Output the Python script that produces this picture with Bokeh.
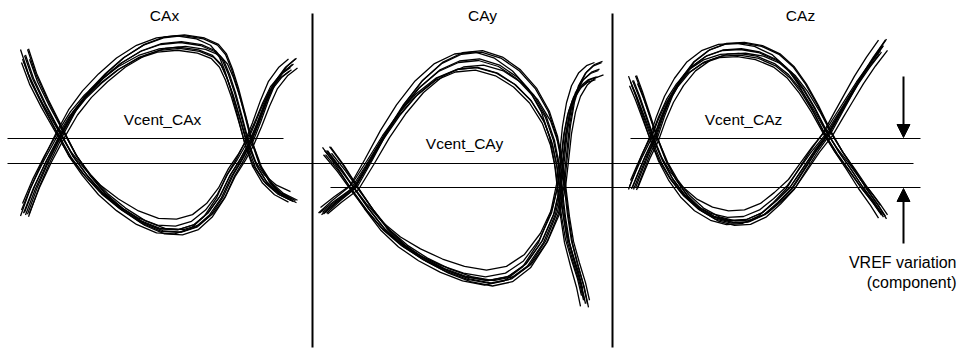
from bokeh.plotting import figure
from bokeh.models import Range1d, Arrow, NormalHead
from bokeh.core.properties import value
from bokeh.embed import file_html
from bokeh.resources import INLINE

# ---- eye curves (picture coordinates, y grows downward) ----
cax_upper_x = [24, 34, 46, 60, 72, 86, 102, 120, 140, 160, 180, 200, 214, 222, 228, 234, 241, 248, 256, 266, 278, 292]
cax_upper_y = [212, 186, 160, 133, 112, 94, 78, 63, 51, 44, 42, 45, 51, 60, 74, 92, 117, 143, 165, 181, 192, 199]
cax_lower_x = [24, 32, 44, 60, 72, 86, 102, 120, 140, 160, 178, 194, 208, 220, 230, 240, 248, 256, 264, 272, 282, 292]
cax_lower_y = [55, 78, 103, 133, 155, 174, 192, 207, 220, 228, 229, 224, 212, 195, 174, 158, 143, 124, 103, 85, 72, 64]

cay_upper_x = [322, 336, 353, 368, 384, 400, 418, 438, 458, 478, 498, 516, 532, 545, 553, 558, 561, 564, 568, 574, 580, 584]
cay_upper_y = [212, 200, 187, 162, 134, 110, 88, 71, 62, 60, 66, 78, 95, 117, 140, 165, 190, 215, 240, 262, 282, 300]
cay_lower_x = [326, 340, 353, 368, 384, 402, 422, 444, 466, 488, 508, 526, 542, 554, 560, 563, 566, 570, 575, 582, 590, 598]
cay_lower_y = [150, 168, 187, 208, 228, 244, 257, 268, 276, 280, 276, 263, 240, 212, 185, 158, 130, 108, 92, 80, 73, 70]

caz_upper_x = [632, 638, 645, 653, 660, 668, 678, 690, 705, 722, 740, 758, 776, 790, 802, 814, 827, 838, 850, 862, 874, 882]
caz_upper_y = [187, 172, 155, 138, 118, 99, 82, 67, 56, 50, 49, 52, 60, 72, 88, 108, 133, 151, 168, 186, 202, 214]
caz_lower_x = [632, 638, 645, 653, 662, 672, 684, 698, 714, 730, 746, 762, 776, 790, 802, 814, 827, 838, 848, 858, 870, 882]
caz_lower_y = [80, 95, 115, 138, 160, 178, 194, 207, 216, 220, 219, 212, 200, 186, 168, 150, 133, 114, 97, 80, 62, 46]

# level each eye's traces spread about (its crossing level)
eye_mid_y = [138, 187, 136]

# per-trace jitter of the overlaid acquisitions
trace_dx = [0, -3, 3, -1, 4, -2, 1, 5, -4]
trace_dy = [0, 2, -2, 3, -1, -3, 1, 2, -1]
trace_amp = [1.00, 0.94, 1.05, 0.97, 1.07, 0.92, 1.02, 0.98, 1.06]

# ---- reference levels ----
hline_y = [138, 163, 187, 138]
hline_x0 = [7, 7, 330, 630]
hline_x1 = [283, 913, 920, 920]
vline_x = [312, 612]
vline_y0 = [13, 13]
vline_y1 = [347, 347]

titles = ["CAx", "CAy", "CAz"]
title_x = [164, 482, 800]
title_y = [15, 15, 15]
vcent = ["Vcent_CAx", "Vcent_CAy", "Vcent_CAz"]
vcent_x = [162, 464, 743]
vcent_y = [119, 143, 119]
note = ["VREF variation", "(component)"]
note_x = [956, 956]
note_y = [262, 282]

p = figure(width=961, height=356, x_range=Range1d(0, 961), y_range=Range1d(356, 0),
           output_backend="svg", toolbar_location=None, min_border=0)
p.axis.visible = False
p.grid.visible = False
p.outline_line_color = None
p.background_fill_color = "white"

xs, ys = [], []
curves = [(cax_upper_x, cax_upper_y, 0), (cax_lower_x, cax_lower_y, 0),
          (cay_upper_x, cay_upper_y, 1), (cay_lower_x, cay_lower_y, 1),
          (caz_upper_x, caz_upper_y, 2), (caz_lower_x, caz_lower_y, 2)]
for cx, cy, k in curves:
    ym = eye_mid_y[k]
    for dx, dy, a in zip(trace_dx, trace_dy, trace_amp):
        xs.append([x + dx for x in cx])
        ys.append([ym + (y - ym) * a + dy for y in cy])
p.multi_line(xs, ys, line_color="black", line_width=1.3)

p.segment(x0=hline_x0, y0=hline_y, x1=hline_x1, y1=hline_y, line_color="black", line_width=1)
p.segment(x0=vline_x, y0=vline_y0, x1=vline_x, y1=vline_y1, line_color="black", line_width=2)

p.add_layout(Arrow(end=NormalHead(size=13, fill_color="black", line_color="black"),
                   x_start=903, y_start=76, x_end=903, y_end=137, line_width=2))
p.add_layout(Arrow(end=NormalHead(size=13, fill_color="black", line_color="black"),
                   x_start=903, y_start=243, x_end=903, y_end=188, line_width=2))

font = value("Liberation Sans")
p.text(title_x, title_y, text=titles, text_font=font, text_font_size="15.5px",
       text_align="center", text_baseline="middle", text_color="black")
p.text(vcent_x, vcent_y, text=vcent, text_font=font, text_font_size="15.5px",
       text_align="center", text_baseline="middle", text_color="black")
p.text(note_x, note_y, text=note, text_font=font, text_font_size="16px",
       text_align="right", text_baseline="middle", text_color="black")

open("out.html", "w").write(file_html(p, INLINE))
